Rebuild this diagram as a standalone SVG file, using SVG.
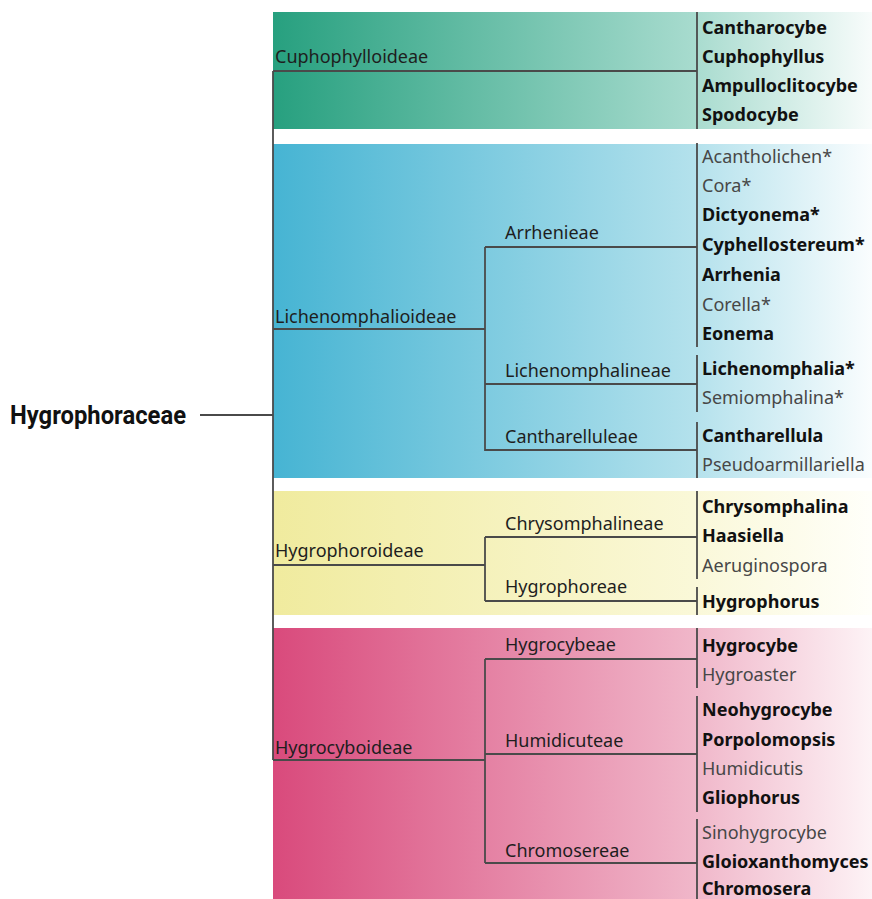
<svg xmlns="http://www.w3.org/2000/svg" width="872" height="899" viewBox="0 0 872 899">
  <defs>
    <linearGradient id="gGreen" x1="0" y1="0" x2="1" y2="0">
      <stop offset="0" stop-color="#27a07f"/>
      <stop offset="0.7" stop-color="#a7dbce"/>
      <stop offset="1" stop-color="#f8fcfb"/>
    </linearGradient>
    <linearGradient id="gBlue" x1="0" y1="0" x2="1" y2="0">
      <stop offset="0" stop-color="#46b4d3"/>
      <stop offset="0.7" stop-color="#b3e1ec"/>
      <stop offset="1" stop-color="#fafdfe"/>
    </linearGradient>
    <linearGradient id="gYellow" x1="0" y1="0" x2="1" y2="0">
      <stop offset="0" stop-color="#f0eb9e"/>
      <stop offset="0.7" stop-color="#faf8d8"/>
      <stop offset="1" stop-color="#fffffa"/>
    </linearGradient>
    <linearGradient id="gPink" x1="0" y1="0" x2="1" y2="0">
      <stop offset="0" stop-color="#d94a7c"/>
      <stop offset="0.7" stop-color="#f0b6c9"/>
      <stop offset="1" stop-color="#fdf3f6"/>
    </linearGradient>
  </defs>
  <style>
    .ln { stroke: #4a4a4a; stroke-width: 1.8; fill: none; }
    .lbl { font-family: "Noto Sans", "Open Sans", sans-serif; font-size: 18px; fill: #1e1e1e; }
    .gb { font-family: "Noto Sans", "Open Sans", sans-serif; font-size: 18px; font-weight: bold; fill: #111; }
    .gr { font-family: "Noto Sans", "Open Sans", sans-serif; font-size: 18px; fill: #474747; }
    .root { font-family: Roboto, "Liberation Sans", sans-serif; font-size: 25px; font-weight: bold; fill: #111; }
  </style>

  <rect width="872" height="899" fill="#ffffff"/>

  <!-- bands -->
  <rect x="273" y="12" width="599" height="117" fill="url(#gGreen)"/>
  <rect x="273" y="144" width="599" height="334" fill="url(#gBlue)"/>
  <rect x="273" y="491" width="599" height="124" fill="url(#gYellow)"/>
  <rect x="273" y="628" width="599" height="271" fill="url(#gPink)"/>

  <g id="connectors">
    <line class="ln" x1="200" y1="415" x2="273" y2="415"/>
    <line class="ln" x1="273" y1="71" x2="273" y2="760"/>
    <!-- Cuphophylloideae -->
    <line class="ln" x1="273" y1="71" x2="697" y2="71"/>
    <line class="ln" x1="697" y1="12" x2="697" y2="129"/>
    <!-- Lichenomphalioideae -->
    <line class="ln" x1="273" y1="329" x2="485" y2="329"/>
    <line class="ln" x1="485" y1="247" x2="485" y2="451"/>
    <line class="ln" x1="485" y1="247" x2="697" y2="247"/>
    <line class="ln" x1="485" y1="384" x2="697" y2="384"/>
    <line class="ln" x1="485" y1="450" x2="697" y2="450"/>
    <line class="ln" x1="697" y1="143" x2="697" y2="347"/>
    <line class="ln" x1="697" y1="355" x2="697" y2="412"/>
    <line class="ln" x1="697" y1="422" x2="697" y2="478"/>
    <!-- Hygrophoroideae -->
    <line class="ln" x1="273" y1="565" x2="485" y2="565"/>
    <line class="ln" x1="485" y1="537" x2="485" y2="601"/>
    <line class="ln" x1="485" y1="537" x2="697" y2="537"/>
    <line class="ln" x1="485" y1="601" x2="697" y2="601"/>
    <line class="ln" x1="697" y1="491" x2="697" y2="579"/>
    <line class="ln" x1="697" y1="587" x2="697" y2="615"/>
    <!-- Hygrocyboideae -->
    <line class="ln" x1="273" y1="760" x2="485" y2="760"/>
    <line class="ln" x1="485" y1="659" x2="485" y2="863"/>
    <line class="ln" x1="485" y1="659" x2="697" y2="659"/>
    <line class="ln" x1="485" y1="754" x2="697" y2="754"/>
    <line class="ln" x1="485" y1="863" x2="697" y2="863"/>
    <line class="ln" x1="697" y1="628" x2="697" y2="688"/>
    <line class="ln" x1="697" y1="696" x2="697" y2="812"/>
    <line class="ln" x1="697" y1="819" x2="697" y2="899"/>
  </g>

  <g id="hygrophoraceae">
    <text class="root" x="10" y="424" textLength="176" lengthAdjust="spacingAndGlyphs">Hygrophoraceae</text>
  </g>

  <g id="cuphophylloideae">
    <text class="lbl" x="275" y="63">Cuphophylloideae</text>
  </g>
  <g id="cuphophylloideae-genera">
    <text class="gb" x="702" y="34">Cantharocybe</text>
    <text class="gb" x="702" y="63">Cuphophyllus</text>
    <text class="gb" x="702" y="92">Ampulloclitocybe</text>
    <text class="gb" x="702" y="121">Spodocybe</text>
  </g>

  <g id="lichenomphalioideae">
    <text class="lbl" x="275" y="323">Lichenomphalioideae</text>
  </g>
  <g id="arrhenieae">
    <text class="lbl" x="505" y="239">Arrhenieae</text>
    <text class="gr" x="702" y="163">Acantholichen*</text>
    <text class="gr" x="702" y="192">Cora*</text>
    <text class="gb" x="702" y="221">Dictyonema*</text>
    <text class="gb" x="702" y="251">Cyphellostereum*</text>
    <text class="gb" x="702" y="281">Arrhenia</text>
    <text class="gr" x="702" y="311">Corella*</text>
    <text class="gb" x="702" y="340">Eonema</text>
  </g>
  <g id="lichenomphalineae">
    <text class="lbl" x="505" y="377">Lichenomphalineae</text>
    <text class="gb" x="702" y="375">Lichenomphalia*</text>
    <text class="gr" x="702" y="404">Semiomphalina*</text>
  </g>
  <g id="cantharelluleae">
    <text class="lbl" x="505" y="443">Cantharelluleae</text>
    <text class="gb" x="702" y="442">Cantharellula</text>
    <text class="gr" x="702" y="471">Pseudoarmillariella</text>
  </g>

  <g id="hygrophoroideae">
    <text class="lbl" x="275" y="557">Hygrophoroideae</text>
  </g>
  <g id="chrysomphalineae">
    <text class="lbl" x="505" y="530">Chrysomphalineae</text>
    <text class="gb" x="702" y="513">Chrysomphalina</text>
    <text class="gb" x="702" y="542">Haasiella</text>
    <text class="gr" x="702" y="572">Aeruginospora</text>
  </g>
  <g id="hygrophoreae">
    <text class="lbl" x="505" y="593">Hygrophoreae</text>
    <text class="gb" x="702" y="608">Hygrophorus</text>
  </g>

  <g id="hygrocyboideae">
    <text class="lbl" x="275" y="754">Hygrocyboideae</text>
  </g>
  <g id="hygrocybeae">
    <text class="lbl" x="505" y="651">Hygrocybeae</text>
    <text class="gb" x="702" y="652">Hygrocybe</text>
    <text class="gr" x="702" y="681">Hygroaster</text>
  </g>
  <g id="humidicuteae">
    <text class="lbl" x="505" y="747">Humidicuteae</text>
    <text class="gb" x="702" y="716">Neohygrocybe</text>
    <text class="gb" x="702" y="746">Porpolomopsis</text>
    <text class="gr" x="702" y="775">Humidicutis</text>
    <text class="gb" x="702" y="804">Gliophorus</text>
  </g>
  <g id="chromosereae">
    <text class="lbl" x="505" y="857">Chromosereae</text>
    <text class="gr" x="702" y="839">Sinohygrocybe</text>
    <text class="gb" x="702" y="868">Gloioxanthomyces</text>
    <text class="gb" x="702" y="895">Chromosera</text>
  </g>
</svg>
